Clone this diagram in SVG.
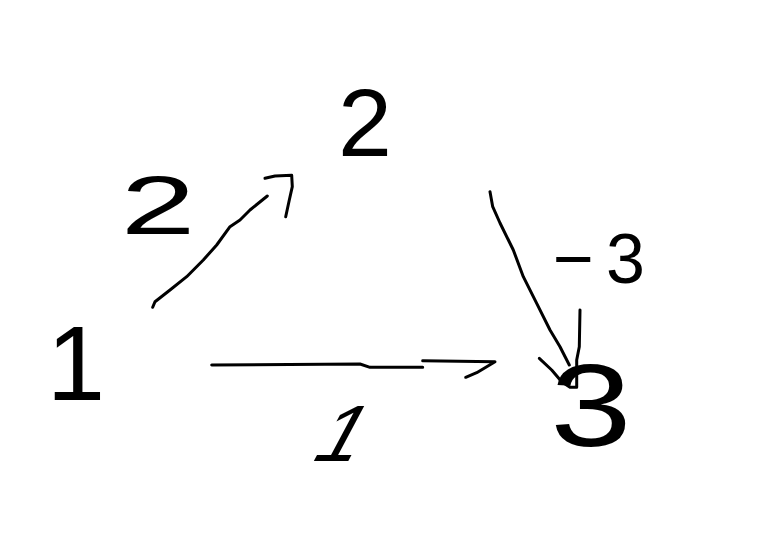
<svg xmlns="http://www.w3.org/2000/svg" width="765" height="543" viewBox="0 0 765 543">
<style>
.bg{fill:#ffffff}
.node{font-family:"Liberation Sans",Arial,sans-serif;fill:#000;text-anchor:middle}
.lbl{font-family:"Liberation Sans",Arial,sans-serif;fill:#000}
.edge{fill:none;stroke:#000;stroke-width:3;stroke-linecap:round;stroke-linejoin:round}
</style>
<rect class="bg" x="0" y="0" width="765" height="543"/>
<g id="connectors">
  <g id="edge-1-2">
    <path class="edge" d="M152.7,307.3 L155,301.7 L170,290 L186.7,276.7 L203.3,260 L216.7,245 L230,226.7 L240,220 L250,210 L267.3,196"/>
    <path class="edge" d="M265,178.3 L275,176 L291.7,175.3 L292.3,186.7 L289.3,200 L285.7,216.7"/>
  </g>
  <g id="edge-2-3">
    <path class="edge" d="M490,191.7 L492.7,206.7 L500,223 L513.3,250 L523.3,276.7 L536.7,303.3 L550,330 L560,346.7 L569.3,365"/>
    <path class="edge" d="M539.3,358.3 L551.7,370 L561.7,381.7 L570,387.3 L576.7,387.3 L576.7,360 L579.3,346.7 L580,310"/>
  </g>
  <g id="edge-1-3">
    <path class="edge" d="M211.7,365 L360,364 L370,367.3 L422.7,367.3"/>
    <path class="edge" d="M422.7,360.7 L495,361.7 L486.7,366.7 L476.7,372.7 L465.7,377.3"/>
  </g>
</g>
<g id="node-1"><text class="node" x="76" y="400" font-size="105">1</text></g>
<g id="node-2"><text class="node" x="365" y="156" font-size="97">2</text></g>
<g id="node-3"><text class="node" font-size="117" transform="translate(591,446) scale(1.25,1)" x="0" y="0">3</text></g>
<g id="label-1-2"><text class="lbl" font-size="84" text-anchor="middle" transform="translate(158,234) scale(1.6,1)" x="0" y="0">2</text></g>
<g id="label-2-3"><text class="lbl" x="553" y="283" font-size="70" textLength="92" lengthAdjust="spacing">−3</text></g>
<g id="label-1-3"><text class="lbl" font-size="80" text-anchor="middle" transform="translate(330,461) skewX(-28)">1</text></g>
</svg>
